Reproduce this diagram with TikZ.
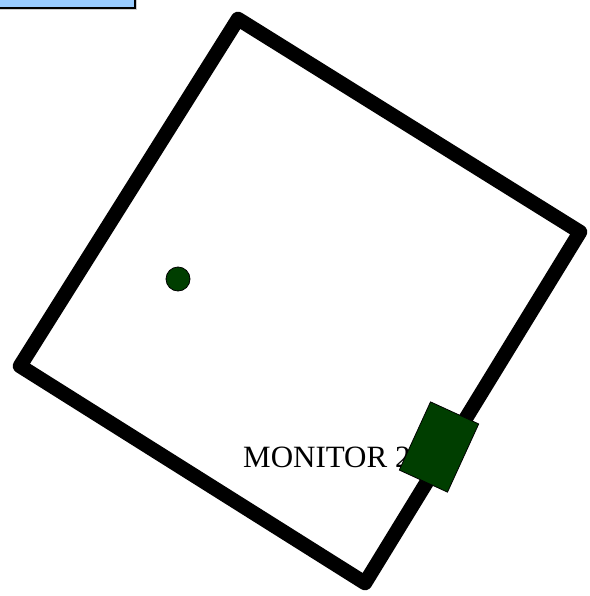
\documentclass[tikz,border=0pt]{standalone}
\usepackage{fontspec}
\setmainfont{Liberation Serif}
\usetikzlibrary{shadows}
\definecolor{darkgrn}{RGB}{0,62,0}
\definecolor{paleblue}{RGB}{153,204,255}
\tikzset{room/.style={line width=14.5pt,line join=round},
  marker/.style={draw=black,fill=darkgrn,line width=0.8pt},
  titlebox/.style={draw=black,fill=paleblue,line width=2pt,drop shadow={shadow xshift=2pt,shadow yshift=-2pt,fill=gray!40,opacity=1}}}
\begin{document}
\begin{tikzpicture}[x=1pt,y=-1pt]
\useasboundingbox (0,0) rectangle (589,596);
\path[titlebox] (-10,-20) rectangle (135,8);
% room outline
\coordinate (top) at (238,19); \coordinate (rgt) at (580,232);
\coordinate (bot) at (365,583); \coordinate (lft) at (20,366);
\draw[room] (top) -- (rgt) -- (bot) -- (lft) -- cycle;
\node[marker,circle,minimum size=24pt,inner sep=0pt] (spot) at (178,279) {};
\node[anchor=base west,font=\fontsize{31}{32}\selectfont,inner sep=0pt] (mon) at (243,467) {MONITOR 2};
\node[marker,minimum width=53pt,minimum height=75pt,inner sep=0pt,rotate=-24.6] (screen) at (439,447) {};
\end{tikzpicture}
\end{document}
